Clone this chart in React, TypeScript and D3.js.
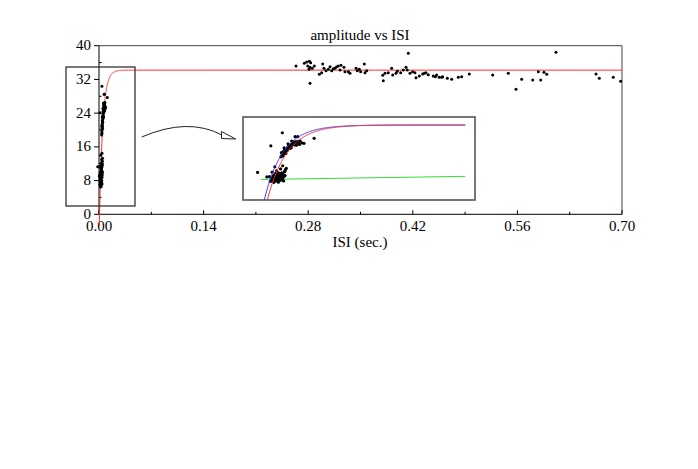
import React from 'react';
import * as d3 from 'd3';

const W = 698;
const H = 469;

const title = 'amplitude vs ISI';
const xLabel = 'ISI (sec.)';
const xTicks = [0, 0.14, 0.28, 0.42, 0.56, 0.7];
const yTicks = [0, 8, 16, 24, 32, 40];

// fitted exponential recovery: amp * (1 - exp(-(t - t0) / tau))
const redFit = { amp: 34.2, t0: 0.00075, tau: 0.0045 };
const blueFit = { amp: 34.1, t0: 0.00005, tau: 0.0042 };
const greenLine: [number, number][] = [[-0.0009, 7.9], [0.0453, 9.4]];

// short-ISI responses (seconds, amplitude)
const earlyUpper: [number, number][] = [
  [0.0036, 18.8], [0.0038, 19.5], [0.0040, 19.2], [0.0039, 20.3], [0.0042, 20.0], [0.0043, 20.8],
  [0.0041, 21.3], [0.0045, 21.0], [0.0046, 21.7], [0.0044, 22.2], [0.0048, 22.0], [0.0049, 22.6],
  [0.0050, 21.8], [0.0051, 23.1], [0.0053, 22.7], [0.0052, 23.6], [0.0055, 23.3], [0.0056, 24.0],
  [0.0054, 24.4], [0.0058, 23.9], [0.0059, 24.6], [0.0060, 24.2], [0.0061, 25.0], [0.0063, 24.7],
  [0.0062, 25.4], [0.0065, 25.2], [0.0066, 25.8], [0.0064, 26.0], [0.0068, 25.6], [0.0070, 26.1],
  [0.0069, 25.0], [0.0072, 25.7], [0.0074, 26.3], [0.0076, 25.9], [0.0057, 22.9], [0.0047, 20.4],
  [0.0059, 23.2], [0.0067, 24.5], [0.0079, 26.5], [0.0083, 25.5], [0.0037, 20.9], [0.0043, 23.1],
  [0.0052, 25.1], [0.0060, 26.4], [0.0071, 24.4],
  [0.0013, 24.1], [0.0039, 30.4], [0.0068, 28.5], [0.0074, 28.5], [0.0111, 27.7], [0.0088, 25.3],
  [0.0078, 24.8],
];
const earlyLower: [number, number][] = [
  [0.0012, 7.0], [0.0015, 7.6], [0.0018, 6.8], [0.0020, 7.4], [0.0023, 7.1], [0.0026, 7.8],
  [0.0029, 7.3], [0.0032, 7.9], [0.0035, 7.5], [0.0038, 8.0], [0.0014, 8.3], [0.0017, 8.8],
  [0.0021, 8.5], [0.0024, 9.0], [0.0027, 8.6], [0.0030, 9.2], [0.0033, 8.7], [0.0036, 9.1],
  [0.0040, 8.8], [0.0043, 9.3], [0.0019, 9.7], [0.0022, 10.1], [0.0025, 9.6], [0.0028, 10.3],
  [0.0031, 9.9], [0.0034, 10.4], [0.0037, 10.0], [0.0041, 10.2], [0.0045, 9.8], [0.0024, 10.9],
  [0.0029, 11.2], [0.0033, 10.8], [0.0038, 11.1], [0.0044, 11.6], [0.0046, 12.6], [0.0048, 13.3],
  [0.0045, 12.0], [0.0020, 6.5], [0.0030, 6.6], [0.0042, 7.2], [0.0010, 9.3], [0.0016, 11.4],
  [0.0026, 12.1], [0.0035, 13.0], [0.0022, 14.0], [0.0040, 14.5], [-0.0017, 11.3], [0.0004, 9.1],
];
// long-ISI responses
const lateISI: [number, number][] = [
  [0.2637, 35.18], [0.2748, 35.82], [0.2780, 36.13], [0.2815, 36.29], [0.2833, 35.97], [0.2793, 35.18],
  [0.2824, 34.87], [0.2811, 34.40], [0.2855, 34.64], [0.2882, 35.18], [0.2824, 31.08], [0.2949, 33.21],
  [0.2980, 33.60], [0.2994, 35.66], [0.3011, 34.64], [0.3038, 34.07], [0.3069, 34.40], [0.3092, 35.02],
  [0.3114, 34.07], [0.3136, 34.54], [0.3159, 34.64], [0.3181, 35.02], [0.3203, 35.18], [0.3226, 34.24],
  [0.3239, 35.35], [0.3279, 34.87], [0.3292, 33.83], [0.3337, 33.83], [0.3359, 33.45], [0.3440, 34.64],
  [0.3457, 34.07], [0.3484, 34.40], [0.3502, 33.83], [0.3551, 35.66], [0.3560, 33.60], [0.3583, 34.07],
  [0.3797, 32.98], [0.3805, 31.70], [0.3828, 33.45], [0.3872, 33.60], [0.3917, 34.64], [0.3931, 33.05],
  [0.3975, 33.45], [0.3992, 33.93], [0.4038, 33.60], [0.4073, 34.24], [0.4109, 34.87], [0.4126, 34.24],
  [0.4140, 38.20], [0.4162, 33.45], [0.4198, 33.83], [0.4229, 33.60], [0.4243, 32.41], [0.4287, 32.81],
  [0.4332, 33.29], [0.4354, 33.45], [0.4376, 33.60], [0.4407, 33.12], [0.4474, 32.81], [0.4501, 32.65],
  [0.4519, 33.05], [0.4554, 32.50], [0.4586, 32.50], [0.4599, 32.65], [0.4662, 32.27], [0.4720, 32.03],
  [0.4809, 32.50], [0.4854, 32.65], [0.4956, 33.29], [0.5269, 33.05], [0.5478, 33.45], [0.5581, 29.66],
  [0.5657, 32.03], [0.5805, 31.86], [0.5880, 33.83], [0.5912, 31.86], [0.5956, 33.69], [0.5992, 33.21],
  [0.6116, 38.43], [0.6652, 33.29], [0.6696, 32.27], [0.6883, 32.50], [0.6982, 31.55],
];

const FONT = '"Liberation Serif", "Times New Roman", serif';

function fitVal(f: { amp: number; t0: number; tau: number }, t: number) {
  return f.amp * (1 - Math.exp(-(t - f.t0) / f.tau));
}

export default function App() {
  const x = d3.scaleLinear().domain([0, 0.7]).range([99, 622]);
  const y = d3.scaleLinear().domain([0, 40]).range([214.3, 45.7]);

  const ix = d3.scaleLinear().domain([-0.005, 0.0475]).range([243, 475]);
  const iy = d3.scaleLinear().domain([-2, 38]).range([200, 117]);

  const mainTs = [...d3.range(0.0004, 0.05, 0.0001), ...d3.range(0.05, 0.70001, 0.01)];
  const mainLine = d3.line<number>().x((t) => x(t)).y((t) => y(fitVal(redFit, t)));

  const insetTs = d3.range(-0.0009, 0.04531, 0.0001);
  const redInset = d3.line<number>().x((t) => ix(t)).y((t) => iy(fitVal(redFit, t)));
  const blueInset = d3.line<number>().x((t) => ix(t)).y((t) => iy(fitVal(blueFit, t)));
  const greenInset = d3.line<[number, number]>().x((d) => ix(d[0])).y((d) => iy(d[1]));

  const xMinor = d3.range(0.07, 0.7, 0.14);
  const yMinor = d3.range(4, 40, 8);
  const allEarly = [...earlyUpper, ...earlyLower];

  return (
    <svg width={W} height={H} style={{ position: 'absolute', left: 0, top: 0, background: '#fff' }}
      fontFamily={FONT}>
      <defs>
        <clipPath id="insetClip">
          <rect x={243} y={117} width={232} height={83} />
        </clipPath>
      </defs>
      <rect x={0} y={0} width={W} height={H} fill="#fff" />

      {/* frame */}
      <line x1={x(0)} x2={x(0.7)} y1={y(40)} y2={y(40)} stroke="#444" strokeWidth={1} />
      <line x1={x(0.7)} x2={x(0.7)} y1={y(40)} y2={y(0)} stroke="#444" strokeWidth={1} />
      <line x1={x(0)} x2={x(0.7)} y1={y(0)} y2={y(0)} stroke="#000" strokeWidth={1} />
      <line x1={x(0)} x2={x(0)} y1={y(40)} y2={y(0)} stroke="#000" strokeWidth={1} />

      {/* x ticks */}
      {xTicks.map((t) => (
        <g key={'xt' + t}>
          <line x1={x(t)} x2={x(t)} y1={y(0)} y2={y(0) - 4} stroke="#000" />
          <text x={x(t)} y={231} fontSize={15} textAnchor="middle">{d3.format('.2f')(t)}</text>
        </g>
      ))}
      {xMinor.map((t) => (
        <line key={'xm' + t} x1={x(t)} x2={x(t)} y1={y(0)} y2={y(0) - 2.5} stroke="#000" />
      ))}
      {/* y ticks */}
      {yTicks.map((v) => (
        <g key={'yt' + v}>
          <line x1={x(0) - 5} x2={x(0)} y1={y(v)} y2={y(v)} stroke="#000" />
          <text x={91} y={y(v)} dy="0.3em" fontSize={15} textAnchor="end">{v}</text>
        </g>
      ))}
      {yMinor.map((v) => (
        <line key={'ym' + v} x1={x(0)} x2={x(0) + 2.5} y1={y(v)} y2={y(v)} stroke="#000" />
      ))}

      <text x={360} y={40} fontSize={15} textAnchor="middle">{title}</text>
      <text x={360} y={246.5} fontSize={15} textAnchor="middle">{xLabel}</text>

      {/* fit curve */}
      <path d={mainLine(mainTs) || ''} fill="none" stroke="#ff2a2a" strokeWidth={1} />

      {/* points */}
      {allEarly.map((d, i) => (
        <circle key={'e' + i} cx={x(d[0])} cy={y(d[1])} r={1.5} fill="#000" />
      ))}
      {lateISI.map((d, i) => (
        <circle key={'l' + i} cx={x(d[0])} cy={y(d[1])} r={1.5} fill="#000" />
      ))}

      {/* zoom box */}
      <rect x={66} y={67} width={69} height={139} fill="none" stroke="#222" strokeWidth={1.2} />

      {/* arrow */}
      <path d="M141.7,137 Q188,117 222,135" fill="none" stroke="#222" strokeWidth={1} />
      <path d="M221.5,131.5 L235.7,139 L221.5,138.5 Z" fill="#fff" stroke="#222" strokeWidth={1} />

      {/* inset */}
      <rect x={243} y={117} width={232} height={83} fill="#fff" stroke="#555" strokeWidth={1.6} />
      <g clipPath="url(#insetClip)">
        <path d={greenInset(greenLine) || ''} fill="none" stroke="#33dd33" strokeWidth={1} />
        {allEarly.map((d, i) => (
          <circle key={'ie' + i} cx={ix(d[0])} cy={iy(d[1])} r={1.6} fill="#000" />
        ))}
        <path d={blueInset(insetTs) || ''} fill="none" stroke="#3333ff" strokeWidth={1} />
        <path d={redInset(insetTs) || ''} fill="none" stroke="#ff2a2a" strokeWidth={1} />
      </g>
    </svg>
  );
}
